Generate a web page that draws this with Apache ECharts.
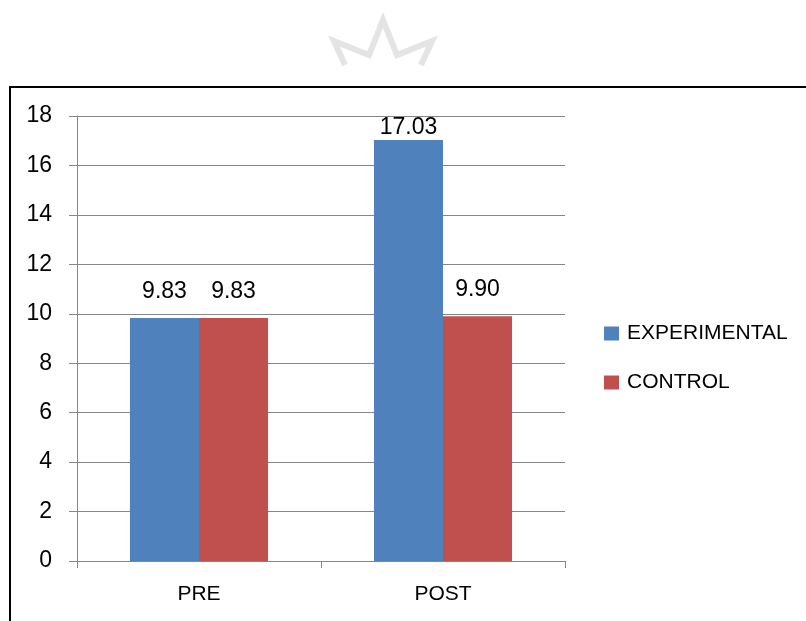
<!DOCTYPE html>
<html>
<head>
<meta charset="utf-8">
<script src="https://cdn.jsdelivr.net/npm/echarts@6/dist/echarts.min.js"></script>
<style>
  html, body { margin: 0; padding: 0; background: #fff; }
  #chart { width: 806px; height: 621px; }
</style>
</head>
<body>
<div id="chart"></div>
<script>
// Test phases and group means
var categories = ['PRE', 'POST'];
var experimental = [9.83, 17.03];
var control = [9.83, 9.90];
var seriesNames = ['EXPERIMENTAL', 'CONTROL'];
var yTicks = { min: 0, max: 18, interval: 2 };

var FONT = "'Liberation Sans', Arial, sans-serif";

// The tallest bar sits right under the plot top, so its label hugs the bar
function withLabels(values) {
  return values.map(function (v) {
    return { value: v, label: { distance: v > 15 ? 1 : 15 } };
  });
}

var chart = echarts.init(document.getElementById('chart'), null, { renderer: 'canvas' });

chart.setOption({
  animation: false,
  backgroundColor: '#ffffff',
  textStyle: { fontFamily: FONT },
  grid: { left: 77, right: 241, top: 116, bottom: 60, containLabel: false },
  legend: {
    orient: 'vertical',
    left: 604,
    top: 323,
    padding: 0,
    itemWidth: 15,
    itemHeight: 14,
    itemGap: 28,
    icon: 'rect',
    data: seriesNames,
    textStyle: { fontFamily: FONT, fontSize: 21, color: '#000', padding: [0, 0, 0, 3] }
  },
  xAxis: {
    type: 'category',
    data: categories,
    boundaryGap: true,
    axisLine: { lineStyle: { color: '#868686', width: 1 } },
    axisTick: { show: true, length: 7, inside: false, lineStyle: { color: '#868686' } },
    axisLabel: { color: '#000', fontFamily: FONT, fontSize: 21, margin: 23 },
    splitLine: { show: false }
  },
  yAxis: {
    type: 'value',
    min: yTicks.min,
    max: yTicks.max,
    interval: yTicks.interval,
    axisLine: { show: true, lineStyle: { color: '#868686', width: 1 } },
    axisTick: { show: true, length: 8, lineStyle: { color: '#868686' } },
    axisLabel: { color: '#000', fontFamily: FONT, fontSize: 23, margin: 25 },
    splitLine: { show: true, lineStyle: { color: '#868686', width: 1 } }
  },
  series: [
    {
      name: seriesNames[0],
      type: 'bar',
      data: withLabels(experimental),
      barGap: 0,
      barCategoryGap: '43.4%',
      itemStyle: { color: '#4F81BD' },
      label: {
        show: true, position: 'top', color: '#000', fontFamily: FONT, fontSize: 23,
        formatter: function (p) { return p.value.toFixed(2); }
      }
    },
    {
      name: seriesNames[1],
      type: 'bar',
      data: withLabels(control),
      barGap: 0,
      barCategoryGap: '43.4%',
      itemStyle: { color: '#C0504D' },
      label: {
        show: true, position: 'top', color: '#000', fontFamily: FONT, fontSize: 23,
        formatter: function (p) { return p.value.toFixed(2); }
      }
    }
  ],
  graphic: [
    // frame around the chart area
    {
      type: 'rect',
      shape: { x: 10, y: 87, width: 900, height: 700 },
      style: { fill: 'none', stroke: '#000', lineWidth: 2 },
      silent: true
    },
    // faint crown mark above the frame
    {
      type: 'polyline',
      shape: { points: [[345, 65], [334, 41], [369, 55], [383, 20], [397, 55], [432, 41], [421, 65]] },
      style: { fill: 'none', stroke: '#e4e4e4', lineWidth: 6, lineJoin: 'miter' },
      silent: true
    }
  ]
});
</script>
</body>
</html>
